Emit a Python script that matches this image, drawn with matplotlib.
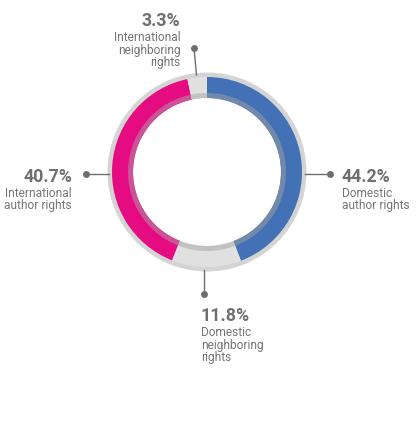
import matplotlib.pyplot as plt

# ---------------------------------------------------------------------------
# data
# ---------------------------------------------------------------------------
categories = [
    "Domestic\nauthor rights",
    "Domestic\nneighboring\nrights",
    "International\nauthor rights",
    "International\nneighboring\nrights",
]
shares = [44.2, 11.8, 40.7, 3.3]
pct_labels = ["44.2%", "11.8%", "40.7%", "3.3%"]

seg_colors = ["#4371b6", "#e0e0e0", "#e50b81", "#e0e0e0"]
band_colors = ["#7389aa", "#c2c2c2", "#c95597", "#c2c2c2"]

W, H = 417, 448
plt.rcParams["font.family"] = ["Roboto", "DejaVu Sans"]

fig = plt.figure(figsize=(W / 100, H / 100), dpi=100)
ax = fig.add_axes([0, 0, 1, 1])

cx, cy = 207, H - 172  # donut centre (y up)

# outer light ring
ax.pie([1], radius=99.5, center=(cx, cy), colors=["#d4d4d4"],
       wedgeprops=dict(width=6, linewidth=0))
# coloured segments
ax.pie(shares, radius=95, center=(cx, cy), colors=seg_colors,
       startangle=90, counterclock=False,
       wedgeprops=dict(width=21, linewidth=0))
# inner shaded band
ax.pie(shares, radius=79, center=(cx, cy), colors=band_colors,
       startangle=90, counterclock=False,
       wedgeprops=dict(width=5, linewidth=0))

# label layout: (text x, percent baseline, ha, dot, ring point) in pixel coords
layout = [
    (342, 181.5, "left", (330, 174), (305, 174)),
    (201, 321, "left", (204, 294), (204, 270)),
    (72, 181.5, "right", (86, 174), (109, 174)),
    (180.5, 26, "right", (194, 48), (196.5, 75)),
]

line_col = "#6e6e6e"
txt_col = "#757575"
for pct, name, (tx, base, ha, dot, ring) in zip(pct_labels, categories, layout):
    ax.plot([dot[0], ring[0]], [H - dot[1], H - ring[1]], color=line_col, lw=1)
    ax.plot(dot[0], H - dot[1], "o", color=line_col, ms=5, mec="none")
    ax.text(tx, H - base, pct, ha=ha, va="baseline", fontsize=12.8,
            fontweight="bold", color="#6f6f6f")
    for i, line in enumerate(name.split("\n")):
        ax.text(tx, H - (base + 15 + i * 12.5), line, ha=ha, va="baseline",
                fontsize=8.6, color=txt_col)

ax.set_xlim(0, W)
ax.set_ylim(0, H)
ax.set_aspect("equal")
ax.axis("off")

fig.savefig("out.png", dpi=100)
